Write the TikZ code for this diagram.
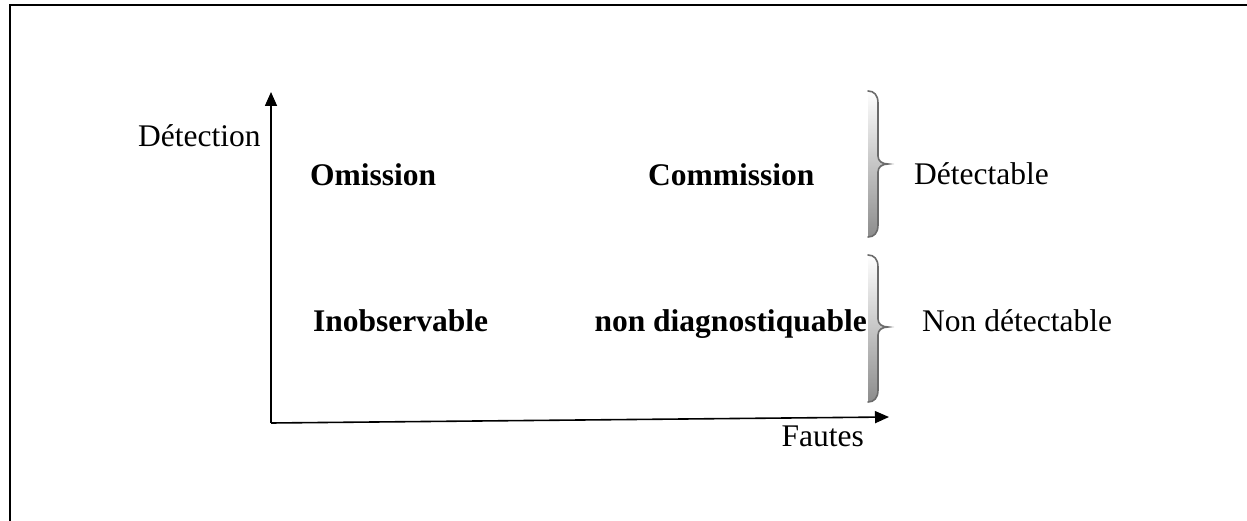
\documentclass[tikz,border=0pt]{standalone}
\usepackage{fontspec}
\setmainfont{Liberation Serif}
\usetikzlibrary{arrows.meta}

% a right curly brace with a soft grey body, given its top, tip and bottom heights
\newcommand{\greybrace}[3]{%
  \shade[top color=white, bottom color=black!45]
    (868,#1) .. controls (874,#1) and (878,#1+4) .. (878,#1+12)
    -- (878,#2-8) .. controls (878,#2-3) and (882,#2) .. (888,#2)
    .. controls (882,#2) and (878,#2+3) .. (878,#2+8)
    -- (878,#3-12) .. controls (878,#3-4) and (874,#3) .. (868,#3) -- cycle;
  \draw[bracestroke]
    (868,#1) .. controls (874,#1) and (878,#1+4) .. (878,#1+12)
    -- (878,#2-8) .. controls (878,#2-3) and (882,#2) .. (888,#2)
    .. controls (882,#2) and (878,#2+3) .. (878,#2+8)
    -- (878,#3-12) .. controls (878,#3-4) and (874,#3) .. (868,#3);
}

\begin{document}
\begin{tikzpicture}[x=1pt, y=-1pt,
  frame/.style={line width=2pt},
  axis/.style={line width=1.6pt, -{Triangle[length=14pt,width=12pt]}},
  bracestroke/.style={draw=black!58, line width=1.6pt, line cap=round},
  lbl/.style={inner sep=0pt, font=\fontsize{31.5}{37}\selectfont},
  blbl/.style={lbl, font=\fontsize{31.5}{37}\selectfont\bfseries}]
  \useasboundingbox (0,0) rectangle (1247,521);

  % open frame: left and top edges only
  \draw[frame] (10,521) -- (10,5.5) -- (1247,5.5);

  % axes
  \coordinate (O) at (271,423);
  \coordinate (ytip) at (271,92);
  \coordinate (xtip) at (889,417);
  \draw[axis] (O) -- (ytip);
  \draw[axis] (O) -- (xtip);

  % axis titles
  \node[lbl, anchor=base west] (det) at (138,147) {Détection};
  \node[lbl, anchor=base east] (fautes) at (864,446) {Fautes};

  % quadrant labels
  \node[blbl, anchor=base west] (omi) at (310,186) {Omission};
  \node[blbl, anchor=base west] (com) at (648,186) {Commission};
  \node[blbl, anchor=base west] (ino) at (313,331) {Inobservable};
  \node[blbl, anchor=base east] (nd) at (867,331) {non diagnostiquable};

  % braces and their labels
  \greybrace{91}{164}{237}
  \greybrace{255}{327}{402}
  \node[lbl, anchor=base west] (dable) at (914,185) {Détectable};
  \node[lbl, anchor=base west] (ndable) at (922,331) {Non détectable};
\end{tikzpicture}
\end{document}
